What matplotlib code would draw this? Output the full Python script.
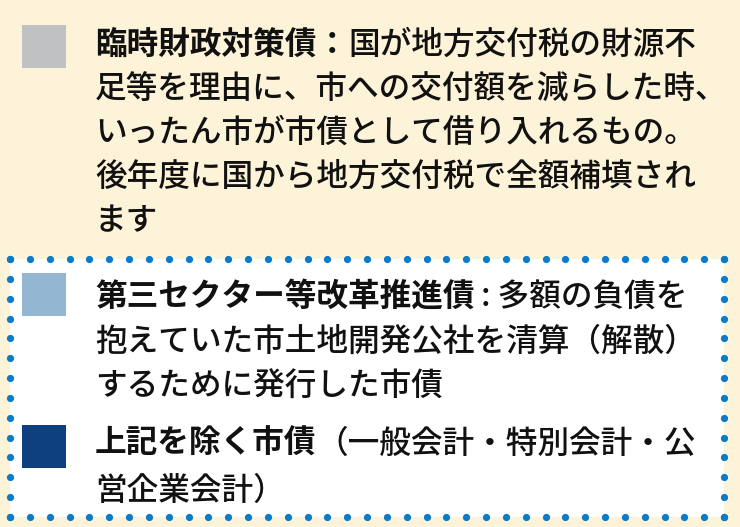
import numpy as np
import matplotlib.pyplot as plt
from matplotlib.patches import Rectangle

plt.rcParams['font.family'] = ['Noto Sans CJK JP', 'DejaVu Sans']

# legend items
labels = ['臨時財政対策債', '第三セクター等改革推進債', '上記を除く市債']
separators = ['：', '', '']
descriptions = [
    ['国が地方交付税の財源不',
     '足等を理由に、市への交付額を減らした時、',
     'いったん市が市債として借り入れるもの。',
     '後年度に国から地方交付税で全額補填され',
     'ます'],
    [' : 多額の負債を',
     '抱えていた市土地開発公社を清算（解散）',
     'するために発行した市債'],
    ['（一般会計・特別会計・公',
     '営企業会計）'],
]
colors = ['#c0c1c2', '#93b7d3', '#0e3f7f']

bg = '#fdf3d9'
dot_color = '#0a7bc9'
fs = 22.8

fig = plt.figure(figsize=(7.4, 5.27), dpi=100)
fig.patch.set_facecolor(bg)
ax = fig.add_axes([0, 0, 1, 1])
ax.set_xlim(0, 740)
ax.set_ylim(527, 0)
ax.axis('off')

# dotted box around the 2nd and 3rd items
x0, x1, y0, y1 = 10, 724, 259, 517
ax.add_patch(Rectangle((x0, y0), x1 - x0, y1 - y0, facecolor='white', edgecolor='none', zorder=0))
xs = np.linspace(x0, x1, 37)
ys = np.linspace(y0, y1, 14)
dx = np.concatenate([xs, xs, np.full(len(ys), x0), np.full(len(ys), x1)])
dy = np.concatenate([np.full(len(xs), y0), np.full(len(xs), y1), ys, ys])
ax.scatter(dx, dy, s=27, color=dot_color, linewidths=0, zorder=2)

renderer = fig.canvas.get_renderer()

swatch_top = [25, 273, 425]
baseline = [54, 306, 453]
line_gap = [44, 45, 47]
tx = 95

for i in range(3):
    ax.add_patch(Rectangle((22, swatch_top[i]), 44, 43, facecolor=colors[i], edgecolor='none', zorder=1))
    y = baseline[i]
    t = ax.text(tx, y, labels[i] + separators[i], fontsize=fs, fontweight='bold',
                va='baseline', ha='left', color='#111111')
    w = t.get_window_extent(renderer).width
    for j, line in enumerate(descriptions[i]):
        x = tx + w if j == 0 else tx
        ax.text(x, y + j * line_gap[i], line, fontsize=fs, fontweight='medium',
                va='baseline', ha='left', color='#111111')

fig.savefig('out.png', dpi=100, facecolor=bg)
